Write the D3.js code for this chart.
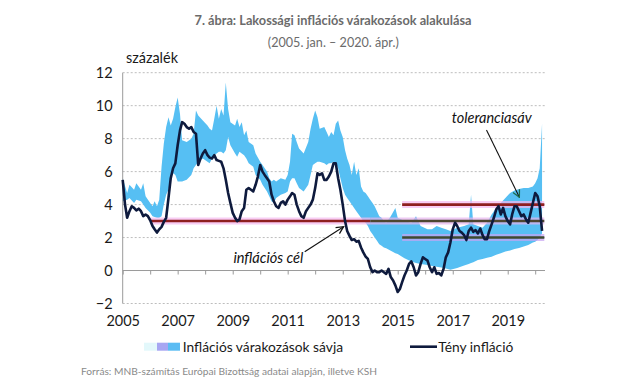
<!DOCTYPE html>
<html><head><meta charset="utf-8">
<script src="https://cdn.jsdelivr.net/npm/d3@7/dist/d3.min.js"></script>
<style>body{margin:0;background:#fff}svg{display:block}text{font-family:Lato,"Open Sans",sans-serif}</style>
</head><body><svg id="c" width="640" height="382"></svg>
<script>
// ---------- DATA ----------
const title = "7. ábra: Lakossági inflációs várakozások alakulása";
const subtitle = "(2005. jan. – 2020. ápr.)";
const yUnit = "százalék";
const yTicks = [-2, 0, 2, 4, 6, 8, 10, 12];
const xTickLabels = ["2005", "2007", "2009", "2011", "2013", "2015", "2017", "2019"];
const legendLabels = ["Inflációs várakozások sávja", "Tény infláció"];
const source = "Forrás: MNB-számítás Európai Bizottság adatai alapján, illetve KSH";

// Actual inflation, monthly from 2005-01 to 2020-04
const inflStart = "2005-01";
const inflation = [
 5.5,4.0,3.2,3.6,3.9,3.8,3.65,3.75,3.6,3.3,3.4,3.3,
 3.05,2.7,2.5,2.3,2.5,2.65,2.95,3.2,4.4,5.6,6.2,6.5,
 7.6,8.5,9.0,8.9,8.7,8.6,8.7,8.4,8.3,6.4,6.8,7.1,
 7.3,7.0,6.85,6.8,7.0,6.7,6.65,6.6,6.2,5.5,4.7,4.1,
 3.5,3.2,3.0,3.1,3.6,3.8,4.9,5.0,4.9,4.8,5.2,5.7,
 6.4,6.0,5.8,5.6,5.4,4.6,4.2,3.9,3.8,4.1,4.2,4.0,
 4.3,4.5,4.7,4.6,4.0,3.6,3.3,3.2,3.6,3.8,4.0,4.3,
 5.0,5.9,5.8,5.9,5.5,5.5,5.7,6.0,6.5,6.5,5.6,4.9,
 4.0,3.0,2.4,2.1,1.85,1.9,1.75,1.8,1.4,1.1,0.85,0.7,
 0.2,-0.1,0.0,-0.1,-0.1,0.0,-0.1,-0.2,0.1,-0.4,-0.6,-0.9,
 -1.3,-1.1,-0.7,-0.3,0.0,0.4,0.55,0.2,-0.3,-0.1,0.4,0.8,
 0.7,0.6,0.2,-0.1,0.2,-0.2,-0.15,-0.3,0.1,0.8,1.1,1.7,
 2.5,2.9,2.7,2.4,2.3,2.15,1.85,2.4,2.6,2.35,2.45,2.25,
 2.55,2.15,1.9,1.9,2.4,2.8,3.2,3.7,3.9,3.4,3.8,3.3,
 3.0,2.8,3.4,3.9,3.9,3.6,3.3,3.4,3.1,2.9,3.5,4.1,
 4.7,4.5,3.9,2.4
];

// Band of inflation expectations (low / high)
const bandDates = [
 "2005-01","2005-03","2005-04","2005-06","2005-07","2005-09","2005-10","2005-11",
 "2006-01","2006-02","2006-03","2006-04","2006-05","2006-06","2006-07","2006-08","2006-09","2006-10","2006-11","2006-12",
 "2007-01","2007-02","2007-03","2007-05","2007-07","2007-08","2007-09","2007-10","2007-12",
 "2008-02","2008-03","2008-04","2008-05","2008-06","2008-07","2008-08","2008-09","2008-10","2008-11","2008-12",
 "2009-02","2009-03","2009-04","2009-05","2009-06","2009-07","2009-08","2009-10","2009-11",
 "2010-01","2010-02","2010-04","2010-05","2010-06","2010-07","2010-08","2010-10","2010-12",
 "2011-01","2011-02","2011-03","2011-04","2011-05","2011-06","2011-08","2011-10","2011-11","2011-12",
 "2012-01","2012-02","2012-03","2012-05","2012-06","2012-07","2012-08","2012-09","2012-10","2012-11","2012-12",
 "2013-01","2013-02","2013-03","2013-04","2013-05","2013-06","2013-07","2013-08","2013-09","2013-10","2013-11","2013-12",
 "2014-01","2014-02","2014-03","2014-04","2014-05","2014-06","2014-07","2014-08","2014-10","2014-12",
 "2015-01","2015-04","2015-07","2015-09","2015-11",
 "2016-02","2016-04","2016-06","2016-08","2016-10","2016-12",
 "2017-03","2017-06","2017-08","2017-09","2017-10","2017-12",
 "2018-02","2018-04","2018-06","2018-08","2018-10","2018-12",
 "2019-02","2019-04","2019-06","2019-08","2019-10","2019-12",
 "2020-01","2020-02","2020-03","2020-04"
];
const bandLow = [
 4.2,4.3,4.4,4.1,4.3,4.2,4.0,3.8,
 3.5,3.3,3.25,3.2,3.2,3.3,4.0,4.6,4.9,5.6,5.9,5.8,
 5.4,5.4,5.4,5.5,5.8,6.2,6.4,6.6,6.8,
 6.6,6.5,6.8,7.0,7.1,7.2,7.2,7.1,7.3,8.1,7.6,
 7.1,6.9,7.2,7.1,7.0,6.8,6.5,6.3,5.8,
 5.5,5.2,4.8,4.5,4.2,4.1,4.4,4.6,4.7,
 4.8,5.4,5.6,5.6,5.3,5.0,4.8,5.2,5.8,6.4,
 6.5,6.6,6.6,6.5,6.4,6.5,6.5,6.6,6.5,6.2,5.6,
 5.0,4.6,4.4,4.2,4.0,3.8,3.6,3.4,3.2,3.0,2.9,2.7,
 2.4,2.2,2.0,1.8,1.6,1.5,1.4,1.35,1.2,1.05,
 1.0,0.75,0.55,0.45,0.4,
 0.33,0.28,0.23,0.18,0.13,0.05,
 0.15,0.3,0.4,0.45,0.5,0.64,
 0.7,0.78,0.84,0.95,1.05,1.15,
 1.22,1.3,1.37,1.45,1.55,1.7,
 1.75,1.85,2.0,2.25
];
const bandHigh = [
 5.6,4.7,5.2,4.9,5.3,4.9,5.3,4.5,
 4.1,3.9,4.2,3.9,4.3,6.3,7.7,8.7,9.3,8.8,9.2,9.9,
 10.5,9.5,7.9,7.8,8.0,8.3,9.7,9.4,9.1,
 8.8,8.6,8.5,9.2,10.0,9.2,9.8,9.4,11.4,9.8,9.0,
 8.8,9.2,8.7,9.0,8.2,8.5,7.8,7.6,7.1,
 6.6,6.4,6.0,5.6,5.4,5.5,5.4,5.6,5.5,
 5.8,6.6,8.3,8.2,7.8,7.4,7.1,7.8,8.6,9.2,
 9.7,9.3,8.6,8.7,8.4,8.1,8.4,8.2,8.9,9.1,8.5,
 8.1,7.3,6.8,6.4,5.8,6.6,5.8,6.2,5.1,4.8,4.7,4.5,
 4.3,4.1,3.9,3.6,3.3,3.2,3.0,2.9,3.3,3.8,
 3.2,3.0,2.9,3.3,2.7,
 2.5,2.5,2.7,2.6,2.5,2.4,
 2.6,2.7,2.8,4.6,2.8,2.7,
 2.6,2.9,3.4,3.8,4.1,4.4,
 4.7,4.85,4.95,5.0,5.0,5.1,
 5.3,5.6,6.2,8.9
];

// Policy references
const targetValue = 3, targetFrom = "2006-01";
const tolLowValue = 2, tolHighValue = 4, tolFrom = "2015-03";
const lineEnd = "2020-05";
const colorSwitch = "2014-01";

// Annotations (anchored in data units)
const annotTarget = {label: "inflációs cél", text: ["2009-01-10", 0.74], from: ["2011-08-15", 1.14], to: ["2013-01-12", 2.66]};
const annotTol = {label: "toleranciasáv", text: ["2016-12-18", 9.24], from: ["2018-03-25", 8.53], to: ["2019-06-05", 4.44]};

// ---------- CHART ----------
const svg = d3.select("#c");
const pm = d3.timeParse("%Y-%m");
const pd = d3.timeParse("%Y-%m-%d");
const x = d3.scaleTime().domain([new Date(2005,0,1), new Date(2020,0,1)]).range([122.7, 535.2]);
const y = d3.scaleLinear().domain([-2, 12]).range([303.5, 72.7]);
const xRight = 545;

function fit(sel, w){ const cur = sel.node().getComputedTextLength(); const fs = parseFloat(sel.attr("font-size")); sel.attr("font-size", (fs*w/cur).toFixed(2)); return sel; }

// gridlines
svg.append("g").selectAll("line").data(yTicks.filter(v=>v!==0)).join("line")
  .attr("x1", x.range()[0]).attr("x2", xRight)
  .attr("y1", d=>y(d)).attr("y2", d=>y(d))
  .attr("stroke", "#bdbdbd").attr("stroke-width", 1).attr("stroke-dasharray", "2,2");

// band
const band = bandDates.map((d,i)=>({d: pm(d), lo: bandLow[i], hi: bandHigh[i]}));
svg.append("path").datum(band)
  .attr("d", d3.area().x(d=>x(d.d)).y0(d=>y(d.lo)).y1(d=>y(d.hi)))
  .attr("fill", "#56bff3");

// axes
svg.append("line").attr("x1", x.range()[0]).attr("x2", x.range()[0]).attr("y1", y(12)).attr("y2", y(-2)).attr("stroke", "#9a9a9a");
const xa = svg.append("g").attr("transform", `translate(0,${y(0)})`)
  .call(d3.axisBottom(x).ticks(d3.timeYear.every(1)).tickSize(4).tickFormat(""));
xa.select(".domain").attr("d", `M${x.range()[0]},0H${xRight}`).attr("stroke", "#9a9a9a");
xa.selectAll(".tick line").attr("stroke", "#9a9a9a");

const ya = svg.append("g").attr("transform", `translate(${x.range()[0]},0)`)
  .call(d3.axisLeft(y).tickValues(yTicks).tickSize(0).tickPadding(10).tickFormat(d3.format("d")));
ya.select(".domain").remove();
ya.selectAll("text").attr("font-size", 14.5).attr("fill", "#1a1a1a").attr("font-family", "Lato");

const xl = svg.append("g").attr("transform", `translate(0,313)`)
  .call(d3.axisBottom(x).tickValues(xTickLabels.map(s=>new Date(+s,0,1))).tickSize(0).tickPadding(3).tickFormat(d3.timeFormat("%Y")));
xl.select(".domain").remove();
xl.selectAll("text").attr("font-size", 14.5).attr("fill", "#1a1a1a").attr("font-family", "Lato");

// reference lines
function hline(v, from, to, color, halo, w){
  const pts = [{d: pm(from), v}, {d: pm(to), v}];
  const ln = d3.line().x(p=>x(p.d)).y(p=>y(p.v));
  if (halo) svg.append("path").attr("d", ln(pts)).attr("stroke", halo).attr("stroke-width", 7).attr("opacity", 0.7).attr("fill","none");
  svg.append("path").attr("d", ln(pts)).attr("stroke", color).attr("stroke-width", w).attr("fill","none");
}
hline(targetValue, targetFrom, colorSwitch, "#8e1f1f", "#f5b8ef", 2.6);
hline(targetValue, colorSwitch, lineEnd, "#4d4630", "#e6b4ee", 2.6);
hline(tolHighValue, tolFrom, lineEnd, "#8e1f1f", "#f5b8ef", 2.6);
hline(tolLowValue, tolFrom, lineEnd, "#3c4a30", "#c7a4f2", 2.6);

// inflation line
const start = pm(inflStart);
const infl = inflation.map((v,i)=>({d: d3.timeMonth.offset(start, i), v}));
svg.append("path").datum(infl)
  .attr("d", d3.line().x(d=>x(d.d)).y(d=>y(d.v)))
  .attr("fill", "none").attr("stroke", "#0e1a3d").attr("stroke-width", 2.6).attr("stroke-linejoin", "round");

// annotations
const defs = svg.append("defs");
function marker(id, color){
  defs.append("marker").attr("id", id).attr("viewBox", "0 0 10 10").attr("refX", 9).attr("refY", 5)
    .attr("markerWidth", 9).attr("markerHeight", 9).attr("markerUnits", "userSpaceOnUse").attr("orient", "auto")
    .append("path").attr("d", "M1,1L9,5L1,9").attr("fill", "none").attr("stroke", color).attr("stroke-width", 1.4);
}
marker("ah1", "#111");
marker("ah2", "#1d6b4d");
function annot(a, mid){
  svg.append("line").attr("x1", x(pd(a.from[0]))).attr("y1", y(a.from[1]))
    .attr("x2", x(pd(a.to[0]))).attr("y2", y(a.to[1])).attr("stroke", "#111").attr("stroke-width", 1.1)
    .attr("marker-end", `url(#${mid})`);
  return svg.append("text").attr("x", x(pd(a.text[0]))).attr("y", y(a.text[1])).attr("dy", "0.35em")
    .attr("font-style", "italic").attr("font-size", 14).attr("fill", "#111").text(a.label);
}
fit(annot(annotTarget, "ah1"), 70);
fit(annot(annotTol, "ah2"), 80);

// titles
fit(svg.append("text").attr("x", 333).attr("y", 24.5).attr("text-anchor", "middle").attr("font-weight", "bold")
  .attr("font-size", 13).attr("fill", "#6b6b6b").text(title), 277);
fit(svg.append("text").attr("x", 333.3).attr("y", 47).attr("text-anchor", "middle")
  .attr("font-size", 13).attr("fill", "#6b6b6b").text(subtitle), 131);
fit(svg.append("text").attr("x", 126).attr("y", 63).attr("font-size", 14).attr("fill", "#1a1a1a").text(yUnit), 52);

// legend
svg.append("rect").attr("x", 144).attr("y", 342.7).attr("width", 13).attr("height", 8).attr("fill", "#e3f8fb");
svg.append("rect").attr("x", 157).attr("y", 342.7).attr("width", 11).attr("height", 8).attr("fill", "#a7a6f2");
svg.append("rect").attr("x", 168).attr("y", 342.7).attr("width", 12).attr("height", 8).attr("fill", "#5bbcf3");
fit(svg.append("text").attr("x", 182.7).attr("y", 351.5).attr("font-size", 15).attr("fill", "#1a1a1a").text(legendLabels[0]), 160.5);
svg.append("line").attr("x1", 410).attr("x2", 437).attr("y1", 346.7).attr("y2", 346.7).attr("stroke", "#0e1a3d").attr("stroke-width", 2.6);
fit(svg.append("text").attr("x", 438.3).attr("y", 351.5).attr("font-size", 15).attr("fill", "#1a1a1a").text(legendLabels[1]), 75);

// source
fit(svg.append("text").attr("x", 81).attr("y", 375).attr("font-size", 11).attr("fill", "#8a8a8a").text(source), 296.5);
</script></body></html>
